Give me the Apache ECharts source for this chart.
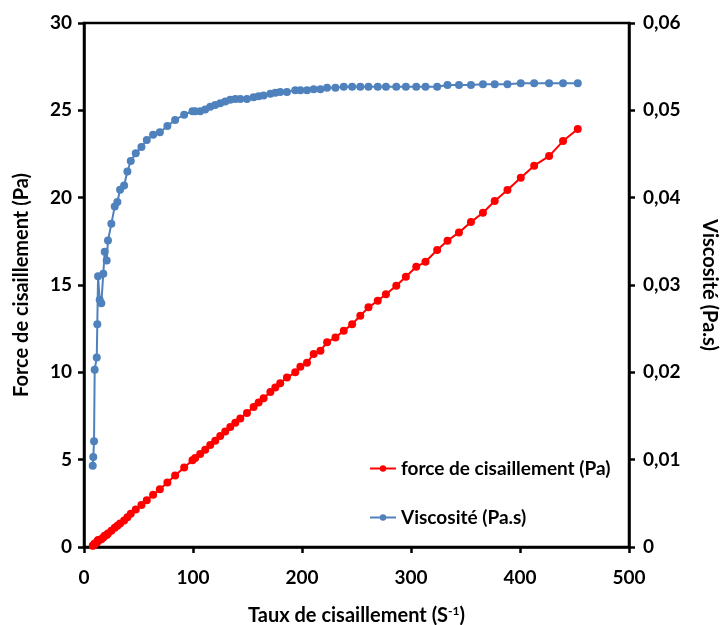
<!DOCTYPE html>
<html>
<head>
<meta charset="utf-8">
<script src="https://cdn.jsdelivr.net/npm/echarts@6/dist/echarts.min.js"></script>
<style>
  html, body { margin: 0; padding: 0; background: #fff; }
  #chart { width: 724px; height: 625px; }
</style>
</head>
<body>
<div id="chart"></div>
<script>
// taux de cisaillement (S-1)
const rates = [
  8.0, 8.5, 9.2, 9.8, 11.7, 12.2, 12.9, 14.4, 15.9, 17.7,
  19.0, 20.8, 22.0, 25.1, 28.2, 30.6, 33.1, 36.8, 39.8, 42.9,
  47.5, 52.7, 57.6, 63.4, 69.6, 76.5, 83.6, 91.9, 99.5, 102,
  106.6, 111.2, 115.8, 120.4, 125, 129.6, 134.2, 138.8, 143.4, 149.5,
  155.6, 160.2, 164.8, 171, 175.5, 180, 186.2, 193.8, 198.5, 204.6,
  210.7, 216.9, 223, 230.7, 238.3, 246, 253.5, 261, 269.5, 277,
  286.5, 295.3, 304.8, 313.3, 324, 333.5, 344, 355, 366, 376.8,
  388.5, 400.7, 413, 426.7, 439.5, 453
]
// force de cisaillement (Pa)
const force = [
  0.07, 0.09, 0.11, 0.20, 0.25, 0.31, 0.40, 0.41, 0.44, 0.55,
  0.64, 0.68, 0.77, 0.93, 1.10, 1.21, 1.35, 1.52, 1.71, 1.90,
  2.14, 2.41, 2.68, 2.99, 3.31, 3.69, 4.09, 4.55, 4.97, 5.09,
  5.32, 5.57, 5.84, 6.09, 6.35, 6.61, 6.87, 7.12, 7.36, 7.67,
  8.01, 8.27, 8.52, 8.87, 9.13, 9.38, 9.70, 10.0, 10.32, 10.55,
  11.05, 11.24, 11.72, 12.00, 12.38, 12.76, 13.24, 13.72, 14.10, 14.47,
  14.96, 15.47, 16.04, 16.33, 17.00, 17.53, 18.01, 18.60, 19.14, 19.81,
  20.44, 21.14, 21.83, 22.38, 23.24, 23.93
]
// viscosité (Pa.s)
const viscosity = [
  0.0093, 0.0103, 0.0121, 0.0203, 0.0217, 0.0255, 0.0310, 0.0283, 0.0279, 0.0313,
  0.0338, 0.0328, 0.0351, 0.0370, 0.0390, 0.0395, 0.0409, 0.0414, 0.0430, 0.0442,
  0.0451, 0.0458, 0.0466, 0.0472, 0.0475, 0.0482, 0.0489, 0.0495, 0.0499, 0.0499,
  0.0499, 0.0501, 0.0504, 0.0506, 0.0508, 0.0510, 0.0512, 0.0513, 0.0513, 0.0513,
  0.0515, 0.0516, 0.0517, 0.0519, 0.0520, 0.0521, 0.0521, 0.0523, 0.0523, 0.0523,
  0.0524, 0.0524, 0.0526, 0.0526, 0.0527, 0.0527, 0.0527, 0.0527, 0.0527, 0.0527,
  0.0527, 0.0527, 0.0527, 0.0527, 0.0527, 0.0529, 0.0529, 0.0529, 0.0530, 0.0530,
  0.0530, 0.0531, 0.0531, 0.0531, 0.0531, 0.0531
]

const FONT = 'Lato'
const labelStyle = { color: '#000', fontFamily: FONT, fontWeight: 'bold', fontSize: 19 }
const nameStyle = { color: '#000', fontFamily: FONT, fontWeight: 'bold', fontSize: 20 }
const axisLine = { show: true, onZero: false, lineStyle: { color: '#000', width: 2.5 } }
const axisTick = { show: true, inside: false, length: 6, lineStyle: { color: '#000', width: 2.5 } }

const chart = echarts.init(document.getElementById('chart'), null, { renderer: 'canvas' })

chart.setOption({
  backgroundColor: '#fff',
  animation: false,
  grid: {
    left: 84, right: 95, top: 23, bottom: 78,
    containLabel: false,
    outerBoundsMode: 'none',
    show: true, borderColor: '#000', borderWidth: 2.5, backgroundColor: 'transparent'
  },
  legend: {
    orient: 'vertical',
    left: 364, top: 454,
    itemGap: 30,
    itemWidth: 26, itemHeight: 8,
    textStyle: { ...labelStyle, fontSize: 19 },
    data: ['force de cisaillement (Pa)', 'Viscosité (Pa.s)']
  },
  xAxis: {
    type: 'value',
    min: 0, max: 500, interval: 100,
    axisLine, axisTick,
    splitLine: { show: false },
    axisLabel: { ...labelStyle, margin: 21 },
    name: 'Taux de cisaillement (S{sup|-1})',
    nameLocation: 'middle',
    nameGap: 58,
    nameTextStyle: {
      ...nameStyle,
      rich: { sup: { ...nameStyle, fontSize: 12, verticalAlign: 'top', padding: [0, 0, 10, 0] } }
    }
  },
  yAxis: [
    {
      type: 'value',
      min: 0, max: 30, interval: 5,
      position: 'left',
      axisLine, axisTick,
      splitLine: { show: false },
      axisLabel: { ...labelStyle, margin: 12 },
      name: 'Force de cisaillement (Pa)',
      nameLocation: 'middle',
      nameGap: 52,
      nameTextStyle: nameStyle
    },
    {
      type: 'value',
      min: 0, max: 0.06, interval: 0.01,
      position: 'right',
      axisLine, axisTick,
      splitLine: { show: false },
      axisLabel: {
        ...labelStyle, margin: 14,
        formatter: (v) => (v === 0 ? '0' : v.toFixed(2).replace('.', ','))
      },
      name: 'Viscosité (Pa.s)',
      nameLocation: 'middle',
      nameRotate: -90,
      nameGap: 70,
      nameTextStyle: nameStyle
    }
  ],
  series: [
    {
      name: 'force de cisaillement (Pa)',
      type: 'line',
      yAxisIndex: 0,
      data: rates.map((r, i) => [r, force[i]]),
      symbol: 'circle', symbolSize: 8,
      itemStyle: { color: '#FF0000' },
      lineStyle: { color: '#FF0000', width: 2 },
      z: 3
    },
    {
      name: 'Viscosité (Pa.s)',
      type: 'line',
      yAxisIndex: 1,
      data: rates.map((r, i) => [r, viscosity[i]]),
      symbol: 'circle', symbolSize: 8,
      itemStyle: { color: '#4F81BD' },
      lineStyle: { color: '#4F81BD', width: 2 },
      z: 2
    }
  ]
})
</script>
</body>
</html>
